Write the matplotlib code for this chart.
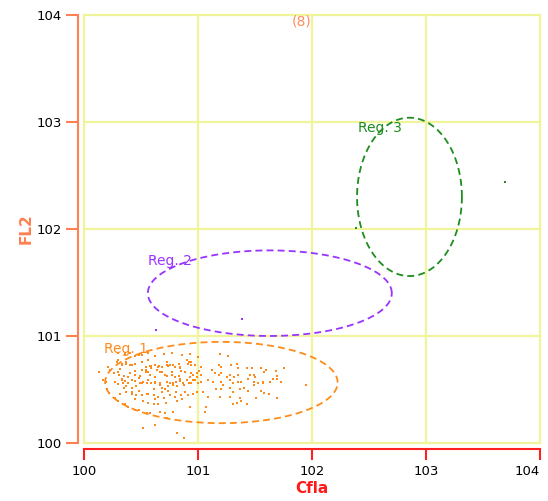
import numpy as np
import matplotlib
matplotlib.use("Agg")
import matplotlib.pyplot as plt

plt.rcParams["font.family"] = ["DejaVu Sans"]
plt.rcParams["lines.scale_dashes"] = False

# events in region 1, log10 units (decades) for Cfla / FL2
cfla_r1 = [0.13, 0.17, 0.19, 0.20, 0.22, 0.27, 0.30, 0.36, 0.39, 0.45, 0.48, 0.55, 0.58,
           0.52, 0.62, 0.67, 0.71, 0.73,
           0.30, 0.33, 0.32, 0.37, 0.40, 0.45, 0.45, 0.51, 0.56, 0.58, 0.62, 0.66, 0.68, 0.73, 0.74,
           0.21, 0.23, 0.26, 0.31, 0.33, 0.36, 0.39, 0.42, 0.45, 0.48, 0.51, 0.54, 0.56, 0.59, 0.64, 0.67, 0.71,
           0.30, 0.34, 0.37, 0.42, 0.46, 0.49, 0.52, 0.55, 0.59, 0.62, 0.67, 0.68, 0.71, 0.74,
           0.32, 0.37, 0.42, 0.46, 0.51, 0.56, 0.61, 0.65, 0.70,
           0.52, 0.56, 0.61, 0.65, 0.72,
           0.75, 0.80, 0.83, 0.84, 0.85, 0.90, 0.91, 0.94, 0.94,
           0.77, 0.80, 0.81, 0.84, 0.87, 0.90, 0.93, 0.96, 0.97, 0.99, 1.01, 1.03, 1.03,
           0.75, 0.78, 0.82, 0.88, 0.94, 1.00,
           0.75, 0.80, 0.85, 0.91, 0.99, 1.04, 1.09,
           0.82, 0.93, 1.07, 1.06, 0.78, 0.82, 0.88,
           1.19, 1.26, 1.29, 1.34, 1.35, 1.18, 1.20, 1.12, 1.15, 1.18, 1.20, 1.25, 1.28, 1.32, 1.35,
           1.09, 1.13, 1.20, 1.22, 1.28, 1.31, 1.35, 1.38,
           1.16, 1.20, 1.28, 1.31, 1.37, 1.19, 1.28, 1.37, 1.34, 1.31,
           1.43, 1.47, 1.46, 1.49, 1.50, 1.55, 1.58, 1.60, 1.38, 1.44, 1.49, 1.49, 1.53, 1.57, 1.57,
           1.63, 1.66, 1.69, 1.69, 1.68, 1.75, 1.73, 1.40, 1.44, 1.55, 1.58, 1.62, 1.51, 1.69,
           1.38, 1.43, 1.95,
           0.30, 0.36, 0.40, 0.48, 0.56, 0.62, 0.70, 0.77, 0.86, 0.93, 1.00,
           0.29, 0.33, 0.37, 0.42, 0.51, 0.54, 0.59, 0.65, 0.73, 0.78, 0.84, 0.92, 0.97, 1.03,
           0.30, 0.35, 0.40, 0.45, 0.49, 0.54, 0.58, 0.62, 0.68, 0.73, 0.77, 0.83, 0.89, 0.94, 0.99,
           0.27, 0.33, 0.39, 0.45, 0.51, 0.56, 0.62, 0.67, 0.73, 0.78, 0.84, 0.92, 0.96, 1.03,
           0.35, 0.42, 0.48, 0.55, 0.61, 0.68, 0.74, 0.81, 0.89, 0.96,
           0.45, 0.62, 0.86]
fl2_r1 = [0.66, 0.59, 0.57, 0.50, 0.47, 0.42, 0.39, 0.36, 0.34, 0.31, 0.31, 0.28, 0.28,
          0.14, 0.17, 0.29, 0.28, 0.23,
          0.78, 0.73, 0.69, 0.74, 0.73, 0.74, 0.81, 0.82, 0.78, 0.72, 0.73, 0.72, 0.71, 0.76, 0.72,
          0.71, 0.68, 0.65, 0.64, 0.60, 0.58, 0.62, 0.59, 0.64, 0.61, 0.68, 0.68, 0.66, 0.70, 0.68, 0.66, 0.64,
          0.55, 0.56, 0.53, 0.51, 0.53, 0.56, 0.57, 0.56, 0.56, 0.57, 0.56, 0.51, 0.50, 0.53,
          0.46, 0.48, 0.46, 0.45, 0.45, 0.46, 0.45, 0.43, 0.42,
          0.39, 0.37, 0.36, 0.36, 0.37,
          0.73, 0.71, 0.74, 0.70, 0.67, 0.78, 0.74, 0.76, 0.73,
          0.64, 0.62, 0.57, 0.60, 0.56, 0.59, 0.62, 0.64, 0.59, 0.65, 0.67, 0.64, 0.57,
          0.56, 0.54, 0.53, 0.54, 0.56, 0.56,
          0.45, 0.43, 0.45, 0.45, 0.48, 0.48, 0.43,
          0.39, 0.34, 0.34, 0.29, 0.29, 0.09, 0.05,
          0.83, 0.81, 0.73, 0.74, 0.70, 0.73, 0.71, 0.68, 0.65, 0.64, 0.65, 0.62, 0.64, 0.62, 0.64,
          0.59, 0.57, 0.57, 0.54, 0.59, 0.56, 0.57, 0.57,
          0.50, 0.50, 0.51, 0.48, 0.50, 0.43, 0.43, 0.42, 0.37, 0.36,
          0.70, 0.70, 0.64, 0.64, 0.62, 0.70, 0.66, 0.68, 0.57, 0.60, 0.57, 0.54, 0.56, 0.57, 0.56,
          0.57, 0.60, 0.63, 0.60, 0.67, 0.70, 0.57, 0.51, 0.49, 0.49, 0.47, 0.46, 0.42, 0.42,
          0.39, 0.36, 0.54,
          0.84, 0.83, 0.84, 0.82, 0.84, 0.81, 0.83, 0.84, 0.82, 0.83, 0.80,
          0.76, 0.74, 0.76, 0.73, 0.76, 0.71, 0.72, 0.71, 0.73, 0.73, 0.71, 0.76, 0.73, 0.71,
          0.66, 0.63, 0.65, 0.67, 0.63, 0.66, 0.64, 0.62, 0.66, 0.63, 0.66, 0.63, 0.66, 0.65, 0.62,
          0.57, 0.59, 0.56, 0.58, 0.56, 0.59, 0.56, 0.54, 0.57, 0.56, 0.58, 0.56, 0.59, 0.57,
          0.51, 0.48, 0.49, 0.46, 0.50, 0.48, 0.49, 0.48, 0.48, 0.46,
          0.41, 0.41, 0.41]

cfla_r2 = [1.39, 0.63]
fl2_r2 = [1.16, 1.06]
cfla_r3 = [3.69, 2.39]
fl2_r3 = [2.44, 2.01]

# gates: name, centre (decades), half-widths (decades), colour, label position
gate_names = ["Reg. 1", "Reg. 2", "Reg. 3"]
gate_cx = [1.205, 1.63, 2.855]
gate_cy = [0.565, 1.40, 2.30]
gate_ax = [1.02, 1.07, 0.46]
gate_ay = [0.38, 0.40, 0.74]
gate_colors = ["#ff8c1a", "#9933ff", "#1e8c1e"]
label_x = [0.175, 0.56, 2.40]
label_y = [0.88, 1.70, 2.94]

ticks = [0, 1, 2, 3, 4]
tick_labels = ["100", "101", "102", "103", "104"]

fig = plt.figure(figsize=(5.48, 5.01), dpi=100)
ax = fig.add_axes([0.1533, 0.1158, 0.8321, 0.8543])
ax.set_xscale("log")
ax.set_yscale("log")
ax.set_xlim(1, 1e4)
ax.set_ylim(1, 1e4)

grid_col = "#f0f59c"
for t in ticks:
    ax.axvline(10.0 ** t, color=grid_col, lw=1.6, zorder=0, clip_on=False)
    ax.axhline(10.0 ** t, color=grid_col, lw=1.6, zorder=0, clip_on=False)

ax.scatter(10.0 ** np.array(cfla_r1), 10.0 ** np.array(fl2_r1), s=4, marker="s",
           color="#ff8a1c", lw=0, zorder=3)
ax.scatter(10.0 ** np.array(cfla_r2), 10.0 ** np.array(fl2_r2), s=4, marker="s",
           color="#9933ff", lw=0, zorder=3)
ax.scatter(10.0 ** np.array(cfla_r3), 10.0 ** np.array(fl2_r3), s=4, marker="s",
           color="#1e8c1e", lw=0, zorder=3)

# elliptical gates, drawn in log space
t = np.linspace(0, 2 * np.pi, 400)
for i in range(3):
    ex = 10.0 ** (gate_cx[i] + gate_ax[i] * np.cos(t))
    ey = 10.0 ** (gate_cy[i] + gate_ay[i] * np.sin(t))
    ax.plot(ex, ey, color=gate_colors[i], lw=1.3, dashes=(5, 3), zorder=4)
    ax.text(10.0 ** label_x[i], 10.0 ** label_y[i], gate_names[i], color=gate_colors[i],
            fontsize=10, ha="left", va="center", zorder=5)

ax.text(10.0 ** 1.91, 10.0 ** 3.94, "(8)", color="#ff8c5a", fontsize=10,
        ha="center", va="center")

for s in ["top", "right"]:
    ax.spines[s].set_visible(False)
ax.spines["left"].set_position(("outward", 4))
ax.spines["bottom"].set_position(("outward", 4))
ax.spines["left"].set_color("#ff8050")
ax.spines["bottom"].set_color("#ff2020")
ax.spines["left"].set_linewidth(1.5)
ax.spines["bottom"].set_linewidth(1.5)

ax.xaxis.set_minor_locator(matplotlib.ticker.NullLocator())
ax.yaxis.set_minor_locator(matplotlib.ticker.NullLocator())
ax.set_xticks([10.0 ** v for v in ticks])
ax.set_yticks([10.0 ** v for v in ticks])
ax.set_xticklabels(tick_labels)
ax.set_yticklabels(tick_labels)
ax.get_xticklabels()[-1].set_horizontalalignment("right")
ax.tick_params(axis="x", colors="#ff2020", labelcolor="black", length=8, width=1.5,
               labelsize=9.5, pad=4)
ax.tick_params(axis="y", colors="#ff8050", labelcolor="black", length=9, width=1.5,
               labelsize=9.5, pad=3)

ax.set_xlabel("Cfla", color="#ff1a1a", fontsize=11, fontweight="bold", labelpad=2)
ax.set_ylabel("FL2", color="#ff8050", fontsize=11, fontweight="bold", labelpad=2)

fig.savefig("out.png", dpi=100)
